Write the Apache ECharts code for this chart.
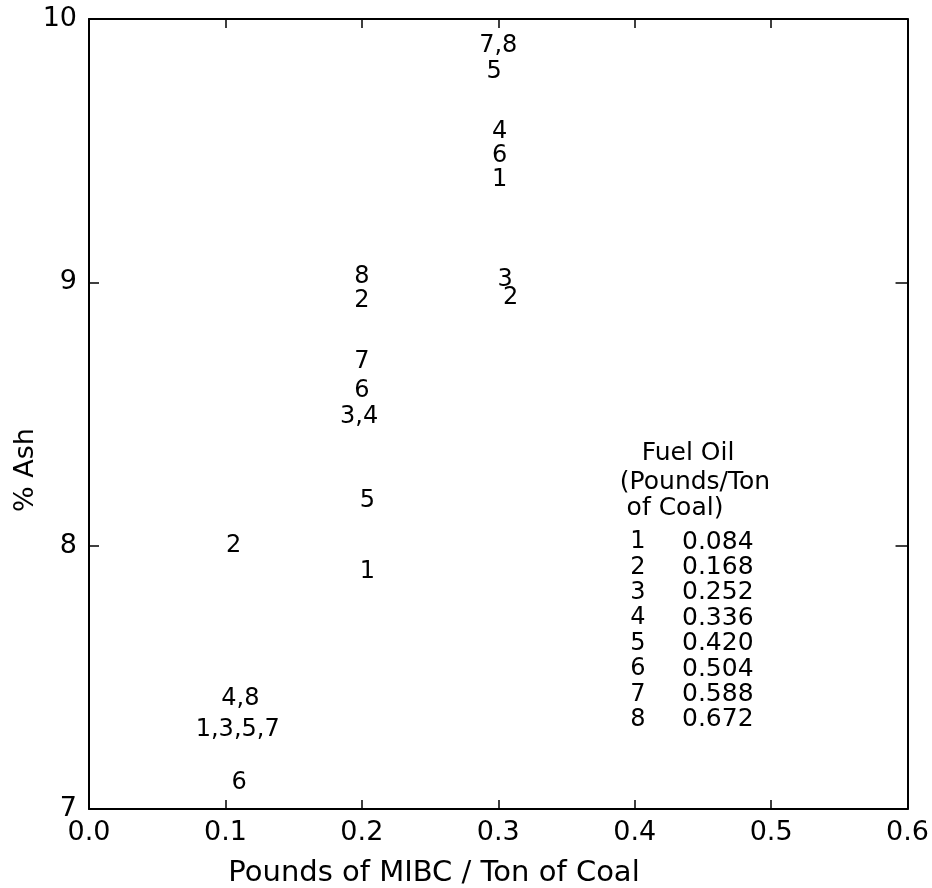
<!DOCTYPE html>
<html>
<head>
<meta charset="utf-8">
<script src="https://cdn.jsdelivr.net/npm/echarts@6/dist/echarts.min.js"></script>
<style>
html,body{margin:0;padding:0;background:#fff;}
#chart{width:932px;height:888px;}
</style>
</head>
<body>
<div id="chart"></div>
<script>
// Point labels (fuel-oil codes) with MIBC dosage (x) and % ash (y)
const pointLabels = ['7,8', '5', '4', '6', '1', '3', '2',
                     '8', '2', '7', '6', '3,4', '5', '1',
                     '2', '4,8', '1,3,5,7', '6'];
const mibcValues  = [0.300, 0.297, 0.301, 0.301, 0.301, 0.305, 0.309,
                     0.200, 0.200, 0.200, 0.200, 0.198, 0.204, 0.204,
                     0.106, 0.111, 0.109, 0.110];
const ashValues   = [9.90, 9.80, 9.57, 9.48, 9.39, 9.01, 8.94,
                     9.02, 8.93, 8.70, 8.59, 8.49, 8.17, 7.90,
                     8.00, 7.42, 7.30, 7.10];

// Legend table
const legendTitle = ['Fuel Oil', '(Pounds/Ton', 'of Coal)'];
const legendIds = ['1', '2', '3', '4', '5', '6', '7', '8'];
const fuelOilValues = ['0.084', '0.168', '0.252', '0.336', '0.420', '0.504', '0.588', '0.672'];

// Axis labels
const xTitle = 'Pounds of MIBC / Ton of Coal';
const yTitle = '% Ash';

const FONT = 'DejaVu Sans';
const chart = echarts.init(document.getElementById('chart'), null, {renderer: 'canvas'});

const data = pointLabels.map((l, i) => [mibcValues[i], ashValues[i], l]);

const graphics = [];
graphics.push({type: 'text', x: 434, y: 873, style: {text: xTitle, fontFamily: FONT, fontSize: 29, fill: '#000', textAlign: 'center', textVerticalAlign: 'middle'}});
graphics.push({type: 'text', x: 26, y: 470, rotation: Math.PI / 2, style: {text: yTitle, fontFamily: FONT, fontSize: 27, fill: '#000', textAlign: 'center', textVerticalAlign: 'middle'}});
const titleX = [688, 695, 675];
const titleY = [453, 482, 508];
legendTitle.forEach((t, i) => {
  graphics.push({type: 'text', x: titleX[i], y: titleY[i], style: {text: t, fontFamily: FONT, fontSize: 25, fill: '#000', textAlign: 'center', textVerticalAlign: 'middle'}});
});
legendIds.forEach((id, i) => {
  const y = 542 + i * 25.4;
  graphics.push({type: 'text', x: 638, y: y, style: {text: id, fontFamily: FONT, fontSize: 24, fill: '#000', textAlign: 'center', textVerticalAlign: 'middle'}});
  graphics.push({type: 'text', x: 682, y: y, style: {text: fuelOilValues[i], fontFamily: FONT, fontSize: 25, fill: '#000', textAlign: 'left', textVerticalAlign: 'middle'}});
});

const axisLineStyle = {color: '#000', width: 2};
chart.setOption({
  animation: false,
  backgroundColor: '#fff',
  grid: {left: 89, right: 24, top: 19, bottom: 79, containLabel: false},
  xAxis: [{
    type: 'value', min: 0, max: 0.6, interval: 0.1, position: 'bottom',
    axisLine: {show: true, onZero: false, lineStyle: axisLineStyle},
    axisTick: {show: true, inside: true, length: 9, lineStyle: {color: '#000', width: 1.5}},
    axisLabel: {show: true, margin: 10, fontFamily: FONT, fontSize: 27, color: '#000', formatter: v => v.toFixed(1)},
    splitLine: {show: false}
  }, {
    type: 'value', min: 0, max: 0.6, interval: 0.1, position: 'top',
    axisLine: {show: true, onZero: false, lineStyle: axisLineStyle},
    axisTick: {show: true, inside: true, length: 9, lineStyle: {color: '#000', width: 1.5}},
    axisLabel: {show: false}, splitLine: {show: false}
  }],
  yAxis: [{
    type: 'value', min: 7, max: 10, interval: 1, position: 'left',
    axisLine: {show: true, onZero: false, lineStyle: axisLineStyle},
    axisTick: {show: true, inside: true, length: 10, lineStyle: {color: '#000', width: 1.5}},
    axisLabel: {show: true, margin: 12, fontFamily: FONT, fontSize: 27, color: '#000'},
    splitLine: {show: false}
  }, {
    type: 'value', min: 7, max: 10, interval: 1, position: 'right',
    axisLine: {show: true, onZero: false, lineStyle: axisLineStyle},
    axisTick: {show: true, inside: true, length: 12, lineStyle: {color: '#000', width: 1.5}},
    axisLabel: {show: false}, splitLine: {show: false}
  }],
  series: [{
    type: 'scatter', xAxisIndex: 0, yAxisIndex: 0,
    data: data, symbolSize: 0,
    itemStyle: {opacity: 1, color: '#000'},
    label: {show: true, position: 'inside', formatter: p => p.data[2], fontFamily: FONT, fontSize: 24, color: '#000', opacity: 1, textBorderWidth: 0},
    emphasis: {disabled: true}
  }],
  graphic: graphics
});
</script>
</body>
</html>
